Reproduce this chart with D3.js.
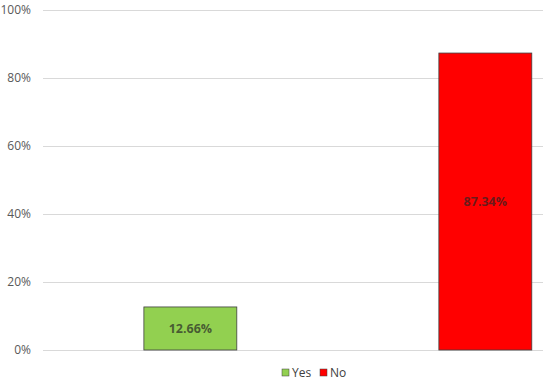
<!DOCTYPE html>
<html>
<head>
<meta charset="utf-8">
<script src="https://cdnjs.cloudflare.com/ajax/libs/d3/7.8.5/d3.min.js"></script>
<style>
  body { margin: 0; background: #fff; }
  text { font-family: "Open Sans", "Liberation Sans", sans-serif; }
</style>
</head>
<body>
<div id="chart-area"></div>
<script>
// data
const categories = ["Yes", "No"]
const values = [12.66, 87.34]
const colors = ["#92D050", "#FF0000"]
const yTicks = [0, 20, 40, 60, 80, 100]

const W = 550, H = 383
const margin = { left: 43, right: 7, top: 10, bottom: 33 }
const width = W - margin.left - margin.right,
    height = H - margin.top - margin.bottom

const svg = d3.select("#chart-area")
  .append("svg")
    .attr("width", W)
    .attr("height", H)

const g = svg.append("g")
  .attr("transform", `translate(${margin.left}, ${margin.top})`)

const x = d3.scaleBand()
  .domain(categories)
  .range([0, width])
  .paddingInner(0.685)
  .paddingOuter(0.19)
  .align(0.9)

const y = d3.scaleLinear()
  .domain([0, 100])
  .range([height, 0])

// gridlines + y labels
const yAxis = d3.axisLeft(y)
  .tickValues(yTicks)
  .tickSize(-width)
  .tickPadding(12)
  .tickFormat(d => d + "%")

const yAxisGroup = g.append("g").call(yAxis)
yAxisGroup.select(".domain").remove()
yAxisGroup.selectAll("line").attr("stroke", "#d9d9d9").attr("stroke-width", 1)
yAxisGroup.selectAll("text")
  .attr("fill", "#595959")
  .attr("font-size", "12px")

// bars
g.selectAll("rect.bar")
  .data(values)
  .enter()
  .append("rect")
    .attr("class", "bar")
    .attr("x", (d, i) => x(categories[i]))
    .attr("y", d => y(d))
    .attr("width", x.bandwidth())
    .attr("height", d => height - y(d))
    .attr("fill", (d, i) => colors[i])
    .attr("stroke", "#404040")
    .attr("stroke-width", 0.8)

// data labels
g.selectAll("text.label")
  .data(values)
  .enter()
  .append("text")
    .attr("class", "label")
    .attr("x", (d, i) => x(categories[i]) + x.bandwidth() / 2)
    .attr("y", d => (y(d) + height) / 2)
    .attr("dy", "0.35em")
    .attr("text-anchor", "middle")
    .attr("font-size", "12.5px")
    .attr("font-weight", "bold")
    .attr("fill", "#262626")
    .attr("fill-opacity", 0.7)
    .text(d => d.toFixed(2) + "%")

// legend
const legend = svg.append("g")
  .attr("transform", `translate(282, 368)`)

let lx = 0
categories.forEach((c, i) => {
  const row = legend.append("g").attr("transform", `translate(${lx}, 0)`)
  row.append("rect")
    .attr("width", 7)
    .attr("height", 7)
    .attr("y", 1)
    .attr("fill", colors[i])
    .attr("stroke", "#404040")
    .attr("stroke-width", 0.5)
  row.append("text")
    .attr("x", 10)
    .attr("y", 5)
    .attr("dy", "0.35em")
    .attr("font-size", "12px")
    .attr("fill", "#404040")
    .text(c)
  lx += 38
})
</script>
</body>
</html>
